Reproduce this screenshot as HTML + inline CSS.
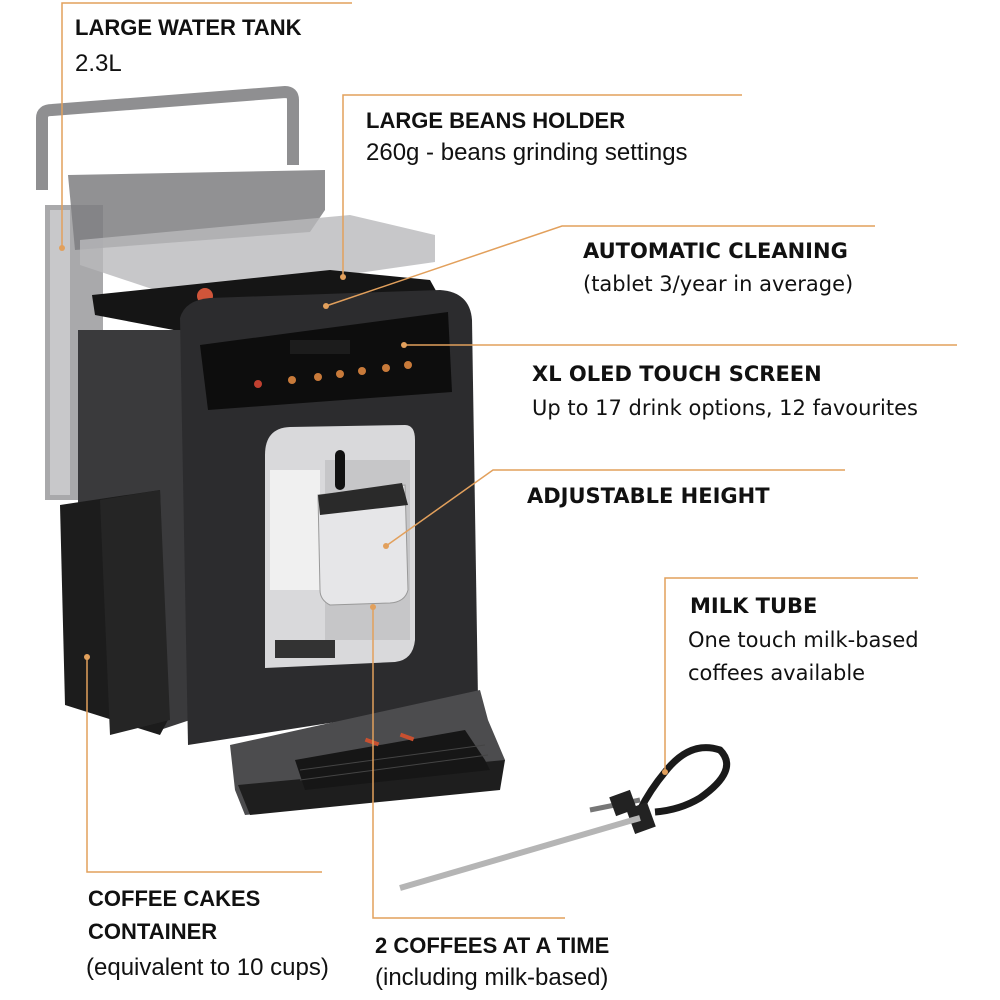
<!DOCTYPE html>
<html><head><meta charset="utf-8">
<style>
html,body{margin:0;padding:0;background:#fff;}
body{width:1000px;height:1000px;position:relative;overflow:hidden;}
.t{position:absolute;white-space:nowrap;color:#111;line-height:1;}
.c{font-family:"Liberation Sans",sans-serif;}
.d{font-family:"DejaVu Sans",sans-serif;}
.b{font-weight:bold;}
svg{position:absolute;left:0;top:0;}
</style></head><body>
<svg width="1000" height="1000" viewBox="0 0 1000 1000">
<rect x="45" y="205" width="58" height="295" fill="#a9a9ab"/>
<rect x="50" y="210" width="20" height="285" fill="#c8c8ca"/>
<path d="M42 190 L42 118 Q42 110 52 110 L285 92 Q293 92 293 100 L293 165" fill="none" stroke="#8f8f91" stroke-width="12"/>
<polygon points="68,175 325,170 325,210 310,232 75,250" fill="#7e7e80" opacity="0.85"/>
<polygon points="80,240 350,215 435,235 435,262 345,275 170,295 80,265" fill="#b9b9bb" opacity="0.8"/>
<polygon points="92,295 330,270 430,280 440,298 200,335 95,315" fill="#151515"/>
<circle cx="205" cy="296" r="8" fill="#d0553a"/>
<polygon points="78,330 185,330 190,720 160,730 78,700" fill="#3a3a3c"/>
<path d="M180 318 Q185 300 210 298 L440 290 Q470 292 472 320 L478 700 L188 745 Z" fill="#2c2c2e"/>
<polygon points="200,345 448,312 452,392 208,410" fill="#0d0d0d"/>
<rect x="290" y="340" width="60" height="14" fill="#1c1c1c"/>
<g fill="#c87a3a"><circle cx="292" cy="380" r="4"/><circle cx="318" cy="377" r="4"/><circle cx="340" cy="374" r="4"/><circle cx="362" cy="371" r="4"/><circle cx="386" cy="368" r="4"/><circle cx="408" cy="365" r="4"/><circle cx="258" cy="384" r="4" fill="#c04030"/></g>
<path d="M265 455 Q265 428 290 427 L405 425 Q415 425 415 440 L415 640 Q413 660 395 662 L265 668 Z" fill="#d9d9db"/>
<rect x="270" y="470" width="50" height="120" fill="#f0f0f0"/>
<rect x="325" y="460" width="85" height="180" fill="#c6c6c8"/>
<rect x="335" y="450" width="10" height="40" rx="5" fill="#111"/>
<path d="M318 495 L405 485 L408 590 Q405 602 390 603 L330 605 Q320 600 320 590 Z" fill="#e6e6e8" stroke="#999" stroke-width="1"/>
<polygon points="318,495 402,483 408,505 320,515" fill="#2a2a2a"/>
<rect x="275" y="640" width="60" height="18" fill="#333"/>
<polygon points="60,505 160,490 168,720 160,735 65,705" fill="#1c1c1c"/>
<polygon points="100,500 160,490 170,720 110,735" fill="#252525"/>
<polygon points="230,745 480,690 488,720 505,760 490,790 245,815 235,790" fill="#4c4c4e"/>
<polygon points="238,785 505,760 500,790 250,815" fill="#1e1e1e"/>
<polygon points="295,760 465,730 485,760 490,770 305,790" fill="#161616"/>
<g stroke="#444" stroke-width="1">
<line x1="300" y1="770" x2="485" y2="745"/><line x1="300" y1="780" x2="488" y2="755"/>
</g>
<rect x="365" y="740" width="14" height="4" fill="#c85030" transform="rotate(20 372 742)"/>
<rect x="400" y="735" width="14" height="4" fill="#c85030" transform="rotate(20 407 737)"/>
<path d="M640 810 Q650 790 665 772 Q690 740 720 750 Q740 770 700 798 Q680 810 655 812" fill="none" stroke="#1a1a1a" stroke-width="7"/>
<line x1="590" y1="810" x2="640" y2="800" stroke="#777" stroke-width="5"/>
<rect x="612" y="793" width="22" height="20" fill="#222" transform="rotate(-20 623 803)"/>
<rect x="630" y="805" width="22" height="26" fill="#222" transform="rotate(-20 641 818)"/>
<line x1="400" y1="888" x2="640" y2="818" stroke="#b5b5b5" stroke-width="6"/>
<g stroke="#e2a05c" stroke-width="1.5" fill="none">
<polyline points="62,248 62,3 352,3"/>
<polyline points="343,277 343,95 742,95"/>
<polyline points="326,306 562,226 875,226"/>
<polyline points="404,345 957,345"/>
<polyline points="386,546 493,470 845,470"/>
<polyline points="665,772 665,578 918,578"/>
<polyline points="373,607 373,918 565,918"/>
<polyline points="87,657 87,872 322,872"/>
</g>
<g fill="#e2a05c"><circle cx="62" cy="248" r="3"/><circle cx="343" cy="277" r="3"/><circle cx="326" cy="306" r="3"/><circle cx="404" cy="345" r="3"/><circle cx="386" cy="546" r="3"/><circle cx="665" cy="772" r="3"/><circle cx="373" cy="607" r="3"/><circle cx="87" cy="657" r="3"/></g>
</svg>
<div class="t c b" style="left:75px;top:17px;font-size:22px;">LARGE WATER TANK</div>
<div class="t c" style="left:75px;top:52px;font-size:24px;">2.3L</div>
<div class="t c b" style="left:366px;top:110px;font-size:22px;">LARGE BEANS HOLDER</div>
<div class="t c" style="left:366px;top:141px;font-size:24px;">260g - beans grinding settings</div>
<div class="t d b" style="left:583px;top:241px;font-size:21px;">AUTOMATIC CLEANING</div>
<div class="t d" style="left:583px;top:274px;font-size:21px;">(tablet 3/year in average)</div>
<div class="t d b" style="left:532px;top:364px;font-size:21px;">XL OLED TOUCH SCREEN</div>
<div class="t d" style="left:532px;top:398px;font-size:21px;">Up to 17 drink options, 12 favourites</div>
<div class="t d b" style="left:527px;top:486px;font-size:21px;">ADJUSTABLE HEIGHT</div>
<div class="t d b" style="left:690px;top:596px;font-size:21px;">MILK TUBE</div>
<div class="t d" style="left:688px;top:630px;font-size:21px;">One touch milk-based</div>
<div class="t d" style="left:688px;top:663px;font-size:21px;">coffees available</div>
<div class="t c b" style="left:88px;top:888px;font-size:22px;">COFFEE CAKES</div>
<div class="t c b" style="left:88px;top:921px;font-size:22px;">CONTAINER</div>
<div class="t c" style="left:86px;top:956px;font-size:24px;">(equivalent to 10 cups)</div>
<div class="t c b" style="left:375px;top:935px;font-size:22px;">2 COFFEES AT A TIME</div>
<div class="t c" style="left:375px;top:966px;font-size:24px;">(including milk-based)</div>
</body></html>
